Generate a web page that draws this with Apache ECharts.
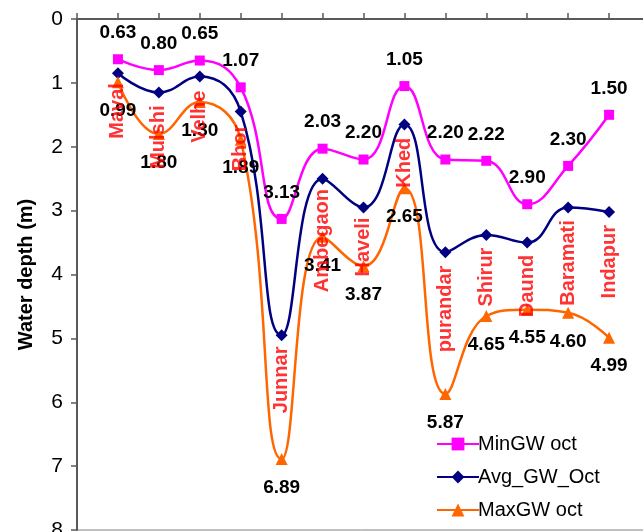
<!DOCTYPE html>
<html>
<head>
<meta charset="utf-8">
<script src="https://cdn.jsdelivr.net/npm/echarts@6/dist/echarts.min.js"></script>
<style>
  html, body { margin: 0; padding: 0; background: #fff; }
  #chart { width: 643px; height: 532px; }
</style>
</head>
<body>
<div id="chart"></div>
<script>
// talukas, in chart order
const categories = ['Maval', 'Mulshi', 'Velhe', 'Bhor', 'Junnar', 'Ambegaon', 'Haveli',
  'Khed', 'purandar', 'Shirur', 'Daund', 'Baramati', 'Indapur'];
const minGW = [0.63, 0.80, 0.65, 1.07, 3.13, 2.03, 2.20, 1.05, 2.20, 2.22, 2.90, 2.30, 1.50];
const avgGW = [0.85, 1.15, 0.90, 1.45, 4.95, 2.50, 2.95, 1.65, 3.65, 3.38, 3.50, 2.95, 3.02];
const maxGW = [0.99, 1.80, 1.30, 1.89, 6.89, 3.41, 3.87, 2.65, 5.87, 4.65, 4.55, 4.60, 4.99];
const depthTicks = [0, 1, 2, 3, 4, 5, 6, 7, 8];

// where the red taluka names sit (depth units), layout only
const nameDepth = [1.44, 1.85, 1.53, 2.02, 5.65, 3.47, 3.57, 2.25, 4.54, 4.04, 4.18, 3.82, 3.80];

const pts = arr => arr.map((v, i) => [i + 1, v]);

const myChart = echarts.init(document.getElementById('chart'));

const valueLabel = {
  show: true,
  color: '#000',
  fontFamily: 'Liberation Sans, Arial',
  fontWeight: 'bold',
  fontSize: 19,
  formatter: p => p.value[1].toFixed(2)
};

myChart.setOption({
  animation: false,
  textStyle: { fontFamily: 'Liberation Sans, Arial' },
  grid: {
    left: 77,
    right: -7,
    top: 19,
    bottom: 2,
    outerBoundsMode: 'none',
    show: true,
    borderColor: '#808080',
    borderWidth: 1
  },
  legend: {
    orient: 'vertical',
    left: 431,
    top: 428,
    itemWidth: 42,
    itemHeight: 16,
    itemGap: 11,
    data: ['MinGW oct', 'Avg_GW_Oct', 'MaxGW oct'],
    textStyle: { fontSize: 20, color: '#000', lineHeight: 22, padding: [0, 0, 0, -6] }
  },
  xAxis: {
    type: 'value',
    position: 'top',
    min: 0,
    max: 14,
    interval: 1,
    axisLine: { lineStyle: { color: '#595959', width: 2 } },
    axisTick: { show: true, length: 6, lineStyle: { color: '#595959', width: 1.5 } },
    axisLabel: { show: false },
    splitLine: { show: false }
  },
  yAxis: {
    type: 'value',
    inverse: true,
    min: depthTicks[0],
    max: depthTicks[depthTicks.length - 1],
    interval: 1,
    name: 'Water depth (m)',
    nameLocation: 'middle',
    nameGap: 41,
    nameRotate: 90,
    nameTextStyle: { fontSize: 20, fontWeight: 'bold', color: '#000' },
    axisLine: { show: true, lineStyle: { color: '#595959', width: 2 } },
    axisTick: { show: true, length: 6, lineStyle: { color: '#595959', width: 1.5 } },
    axisLabel: { fontSize: 21, color: '#000', margin: 14 },
    splitLine: { show: false }
  },
  series: [
    {
      name: 'MinGW oct',
      type: 'line',
      smooth: 0.45,
      data: pts(minGW),
      symbol: 'rect',
      symbolSize: 10,
      lineStyle: { color: '#FF00FF', width: 2.5 },
      itemStyle: { color: '#FF00FF' },
      label: Object.assign({ position: 'top', distance: 12 }, valueLabel)
    },
    {
      name: 'Avg_GW_Oct',
      type: 'line',
      smooth: 0.45,
      data: pts(avgGW),
      symbol: 'diamond',
      symbolSize: 12,
      lineStyle: { color: '#000080', width: 2.5 },
      itemStyle: { color: '#000080' }
    },
    {
      name: 'MaxGW oct',
      type: 'line',
      smooth: 0.45,
      data: pts(maxGW),
      symbol: 'triangle',
      symbolSize: 12,
      lineStyle: { color: '#FF6600', width: 2.5 },
      itemStyle: { color: '#FF6600' },
      label: Object.assign({ position: 'bottom', distance: 13 }, valueLabel)
    },
    {
      name: 'names',
      type: 'scatter',
      data: pts(nameDepth),
      symbolSize: 0,
      silent: true,
      z: 5,
      label: {
        show: true,
        position: 'inside',
        rotate: 90,
        color: '#FF0000',
        fontWeight: 'bold',
        fontSize: 20,
        formatter: p => categories[p.dataIndex]
      }
    }
  ]
});
</script>
</body>
</html>
